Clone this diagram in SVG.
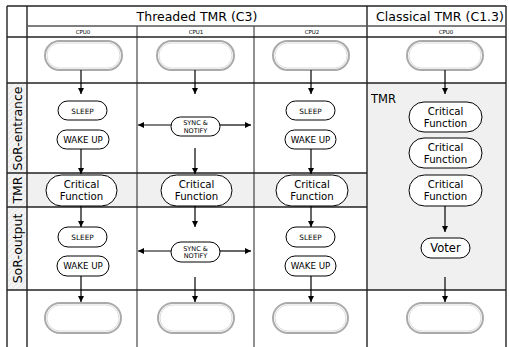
<svg xmlns="http://www.w3.org/2000/svg" width="509" height="347" viewBox="0 0 509 347">
  <style>
    text { font-family: "DejaVu Sans", "Liberation Sans", sans-serif; fill: #000; }
    .grid { stroke: #222; stroke-width: 1.4; fill: none; }
    .thin { stroke: #222; stroke-width: 1; fill: none; }
    .pill { fill: #fff; stroke: #000; stroke-width: 1; }
    .ghost { fill: #fff; stroke: #aaa; stroke-width: 2; }
    .ghost-in { fill: none; stroke: #dcdcdc; stroke-width: 1; }
    .edge { stroke: #000; stroke-width: 1.2; fill: none; marker-end: url(#arrow); }
    .hdr { font-size: 12.5px; text-anchor: middle; }
    .cpu { font-size: 5.5px; text-anchor: middle; }
    .row { font-size: 12.5px; text-anchor: middle; }
    .small { font-size: 7.3px; text-anchor: middle; }
    .wake { font-size: 8.7px; text-anchor: middle; }
    .sync { font-size: 6.5px; text-anchor: middle; }
    .crit { font-size: 10.2px; text-anchor: middle; }
  </style>
  <defs>
    <marker id="arrow" viewBox="0 0 8 8" refX="8" refY="4" markerWidth="6" markerHeight="6" markerUnits="userSpaceOnUse" orient="auto">
      <path d="M0,0 L8,4 L0,8 Z" fill="#000"/>
    </marker>
    <pattern id="hatch" width="4" height="4" patternUnits="userSpaceOnUse" patternTransform="rotate(45)">
      <rect width="4" height="4" fill="#f4f4f4"/>
      <line x1="0" y1="0" x2="0" y2="4" stroke="#d8d8d8" stroke-width="1"/>
    </pattern>
  </defs>

  <!-- backgrounds -->
  <rect x="0" y="0" width="509" height="347" fill="#fff"/>
  <rect x="7" y="83" width="20" height="207" fill="url(#hatch)"/>
  <rect x="27" y="173" width="340" height="34" fill="#f0f0f0"/>
  <rect x="367" y="83" width="139" height="207" fill="#f0f0f0"/>

  <!-- table grid -->
  <g id="grid">
    <line class="grid" x1="7" y1="6" x2="506" y2="6"/>
    <line class="grid" x1="7" y1="6" x2="7" y2="347"/>
    <line class="grid" x1="27" y1="6" x2="27" y2="347"/>
    <line class="grid" x1="506" y1="6" x2="506" y2="347"/>
    <line class="grid" x1="367" y1="6" x2="367" y2="347"/>
    <line class="thin" x1="137" y1="26" x2="137" y2="347"/>
    <line class="thin" x1="254" y1="26" x2="254" y2="347"/>
    <line x1="27" y1="26" x2="506" y2="26" stroke="#555" stroke-width="1.4"/>
    <line class="grid" x1="7" y1="37" x2="506" y2="37"/>
    <line class="grid" x1="7" y1="83" x2="506" y2="83"/>
    <line class="grid" x1="7" y1="173" x2="367" y2="173"/>
    <line class="grid" x1="7" y1="207" x2="367" y2="207"/>
    <line class="grid" x1="7" y1="290" x2="506" y2="290"/>
  </g>

  <!-- headers -->
  <g id="headers">
    <text class="hdr" x="197" y="21">Threaded TMR (C3)</text>
    <text class="hdr" x="440" y="21">Classical TMR (C1.3)</text>
    <text class="cpu" x="83" y="34">CPU0</text>
    <text class="cpu" x="196" y="34">CPU1</text>
    <text class="cpu" x="312" y="34">CPU2</text>
    <text class="cpu" x="446" y="34">CPU0</text>
    <text class="row" transform="translate(21.5,128.5) rotate(-90)">SoR-entrance</text>
    <text class="row" transform="translate(21.5,190) rotate(-90)">TMR</text>
    <text class="row" transform="translate(21.5,248.5) rotate(-90)">SoR-output</text>
    <text x="371" y="103" font-size="11.5px">TMR</text>
  </g>

  <!-- start placeholders -->
  <g id="start0"><rect class="ghost" x="45" y="41" width="77" height="29" rx="14.5"/><rect class="ghost-in" x="47" y="43" width="73" height="25" rx="12.5"/></g>
  <g id="start1"><rect class="ghost" x="157" y="41" width="77" height="29" rx="14.5"/><rect class="ghost-in" x="159" y="43" width="73" height="25" rx="12.5"/></g>
  <g id="start2"><rect class="ghost" x="273" y="41" width="76" height="29" rx="14.5"/><rect class="ghost-in" x="275" y="43" width="72" height="25" rx="12.5"/></g>
  <g id="start3"><rect class="ghost" x="407" y="41" width="76" height="29" rx="14.5"/><rect class="ghost-in" x="409" y="43" width="72" height="25" rx="12.5"/></g>

  <!-- SoR entrance -->
  <g id="sleep0"><rect class="pill" x="58" y="101" width="49" height="19" rx="9.5"/><text class="small" x="82.5" y="113.5">SLEEP</text></g>
  <g id="wake0"><rect class="pill" x="57" y="130" width="52" height="19" rx="9.5"/><text class="wake" x="83" y="142.8">WAKE UP</text></g>
  <g id="sync0"><rect class="pill" x="171" y="117" width="49" height="19" rx="9.5"/><text class="sync" x="195.5" y="125">SYNC &amp;</text><text class="sync" x="195.5" y="132.5">NOTIFY</text></g>
  <g id="sleep2"><rect class="pill" x="286" y="101" width="49" height="19" rx="9.5"/><text class="small" x="310.5" y="113.5">SLEEP</text></g>
  <g id="wake2"><rect class="pill" x="285" y="130" width="51" height="19" rx="9.5"/><text class="wake" x="310.5" y="142.8">WAKE UP</text></g>

  <!-- critical functions -->
  <g id="crit0"><rect class="pill" x="46" y="175" width="71" height="31" rx="15.5"/><text class="crit" x="81.5" y="188">Critical</text><text class="crit" x="81.5" y="200">Function</text></g>
  <g id="crit1"><rect class="pill" x="161" y="175" width="71" height="31" rx="15.5"/><text class="crit" x="196.5" y="188">Critical</text><text class="crit" x="196.5" y="200">Function</text></g>
  <g id="crit2"><rect class="pill" x="276" y="175" width="72" height="31" rx="15.5"/><text class="crit" x="312" y="188">Critical</text><text class="crit" x="312" y="200">Function</text></g>
  <g id="critA"><rect class="pill" x="409" y="102" width="73" height="30" rx="15"/><text class="crit" x="445.5" y="114.5">Critical</text><text class="crit" x="445.5" y="126.5">Function</text></g>
  <g id="critB"><rect class="pill" x="409" y="138" width="73" height="30" rx="15"/><text class="crit" x="445.5" y="150.5">Critical</text><text class="crit" x="445.5" y="162.5">Function</text></g>
  <g id="critC"><rect class="pill" x="409" y="175" width="73" height="31" rx="15.5"/><text class="crit" x="445.5" y="188">Critical</text><text class="crit" x="445.5" y="200">Function</text></g>

  <!-- SoR output -->
  <g id="sleep0b"><rect class="pill" x="58" y="227" width="49" height="20" rx="10"/><text class="small" x="82.5" y="240">SLEEP</text></g>
  <g id="wake0b"><rect class="pill" x="57" y="256" width="52" height="20" rx="10"/><text class="wake" x="83" y="269.2">WAKE UP</text></g>
  <g id="sync1b"><rect class="pill" x="171" y="242" width="49" height="20" rx="10"/><text class="sync" x="195.5" y="250.5">SYNC &amp;</text><text class="sync" x="195.5" y="258">NOTIFY</text></g>
  <g id="sleep2b"><rect class="pill" x="286" y="227" width="49" height="20" rx="10"/><text class="small" x="310.5" y="240">SLEEP</text></g>
  <g id="wake2b"><rect class="pill" x="285" y="256" width="51" height="20" rx="10"/><text class="wake" x="310.5" y="269.2">WAKE UP</text></g>
  <g id="voter"><rect class="pill" x="421" y="238" width="49" height="20" rx="10"/><text x="445.5" y="252" font-size="11.5px" text-anchor="middle">Voter</text></g>

  <!-- end placeholders -->
  <g id="end0"><rect class="ghost" x="45" y="303" width="76" height="30" rx="15"/><rect class="ghost-in" x="47" y="305" width="72" height="26" rx="13"/></g>
  <g id="end1"><rect class="ghost" x="158" y="303" width="76" height="30" rx="15"/><rect class="ghost-in" x="160" y="305" width="72" height="26" rx="13"/></g>
  <g id="end2"><rect class="ghost" x="273" y="303" width="75" height="30" rx="15"/><rect class="ghost-in" x="275" y="305" width="71" height="26" rx="13"/></g>
  <g id="end3"><rect class="ghost" x="407" y="303" width="76" height="30" rx="15"/><rect class="ghost-in" x="409" y="305" width="72" height="26" rx="13"/></g>

  <!-- connectors -->
  <g id="connectors">
    <line class="edge" x1="81" y1="70" x2="81" y2="94"/>
    <line class="edge" x1="195" y1="70" x2="195" y2="94"/>
    <line class="edge" x1="311" y1="70" x2="311" y2="94"/>
    <line class="edge" x1="445" y1="70" x2="445" y2="94"/>

    <line class="edge" x1="81" y1="149" x2="81" y2="174"/>
    <line class="edge" x1="195" y1="148" x2="195" y2="174"/>
    <line class="edge" x1="311" y1="149" x2="311" y2="174"/>
    <line class="edge" x1="171" y1="125" x2="138" y2="125"/>
    <line class="edge" x1="220" y1="125" x2="251" y2="125"/>

    <line class="edge" x1="81" y1="206" x2="81" y2="227"/>
    <line class="edge" x1="195" y1="206" x2="195" y2="227"/>
    <line class="edge" x1="311" y1="206" x2="311" y2="227"/>
    <line class="edge" x1="445" y1="206" x2="445" y2="232"/>
    <line class="edge" x1="171" y1="251" x2="138" y2="251"/>
    <line class="edge" x1="220" y1="251" x2="251" y2="251"/>

    <line class="edge" x1="81" y1="276" x2="81" y2="302"/>
    <line class="edge" x1="195" y1="277" x2="195" y2="302"/>
    <line class="edge" x1="311" y1="276" x2="311" y2="302"/>
    <line class="edge" x1="445" y1="277" x2="445" y2="302"/>
  </g>
</svg>
